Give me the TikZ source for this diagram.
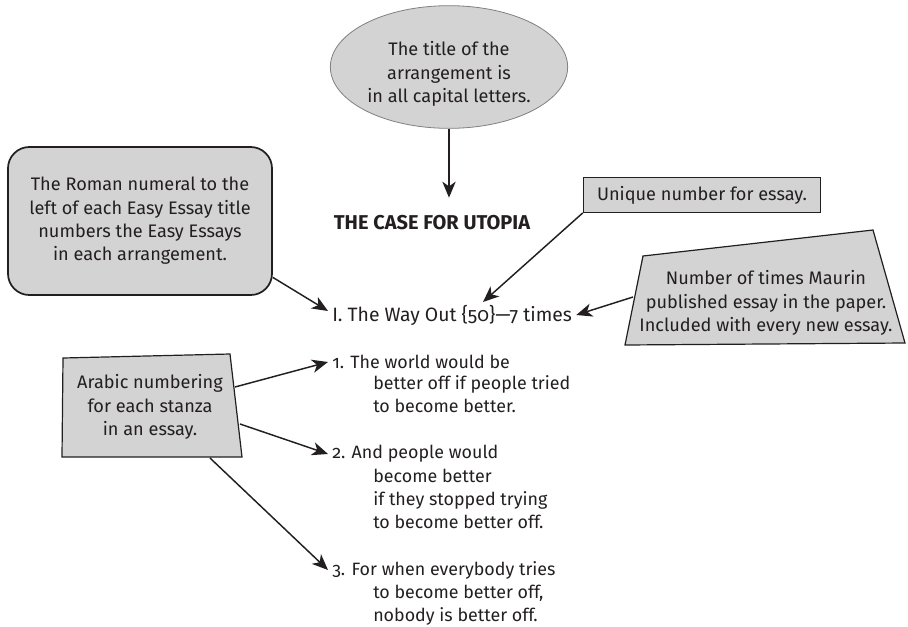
\documentclass[tikz,border=0pt]{standalone}
\usepackage{fontspec}
\setmainfont{Fira Sans}[Numbers=OldStyle]
\usetikzlibrary{shapes.geometric,arrows.meta}
\definecolor{notegray}{RGB}{211,211,211}
\definecolor{ink}{RGB}{35,31,32}
\tikzset{
  pointer/.style={-{Stealth[length=12pt,width=10pt,inset=3.5pt]},line width=1.1pt,draw=ink},
  poem/.style={anchor=west,inner sep=3pt,align=left,font=\fontsize{13.4}{17.25}\selectfont}
}
\begin{document}
\begin{tikzpicture}[x=0.75pt,y=-0.75pt,font=\fontsize{13.6}{17.5}\selectfont,text=ink]
\useasboundingbox (0,0) rectangle (908,626);
\begin{scope}[every node/.style={fill=notegray,align=center}]
	\node[ellipse,draw=gray,line width=0.6pt,minimum width=178pt,minimum height=92pt,inner sep=0pt] (title) at (449,67) {};
	\node[draw=ink,line width=1.3pt,rounded corners=16pt,minimum width=198pt,minimum height=111pt] (roman) at (140,221) {The Roman numeral to the\\left of each Easy Essay title\\numbers the Easy Essays\\in each arrangement.};
	\node[draw=ink,line width=0.8pt,minimum width=178pt,minimum height=26pt] (uniq) at (702,195) {Unique number for essay.};
\end{scope}
\node[align=center] (titletext) at (449,74) {The title of the\\arrangement is\\in all capital letters.};
\filldraw[fill=notegray,draw=ink,line width=0.9pt] (643,256) -- (873,230) -- (905,343) -- (625,345) -- cycle;
\filldraw[fill=notegray,draw=ink,line width=0.9pt] (63,358) -- (230,354) -- (242,457) -- (62,457) -- cycle;
\node[align=center] (times) at (766,303) {Number of times Maurin\\published essay in the paper.\\Included with every new essay.};
\node[align=center] (arabic) at (150,407) {Arabic numbering\\for each stanza\\in an essay.};
\coordinate (tstart) at (633,297);
\coordinate (a1) at (235,387);
\coordinate (a2) at (240,424);
\coordinate (a3) at (210,458);
\coordinate (num) at (483,302);
% the essay listing
\node[font=\fontsize{15}{18}\selectfont\bfseries] (case) at (432,223) {THE CASE FOR UTOPIA};
\node[poem,font=\fontsize{14.5}{17.25}\selectfont] (essay) at (328,315) {I. The Way Out \{50\}---7 times};
\node[poem] (s1) at (328,362) {1. The world would be};
\node[poem,anchor=north west,inner sep=0pt] (s1b) at (373,375) {better off if people tried\\to become better.};
\node[poem] (s2) at (328,454) {2. And people would};
\node[poem,anchor=north west,inner sep=0pt] (s2b) at (373,469) {become better\\if they stopped trying\\to become better off.};
\node[poem] (s3) at (328,570) {3. For when everybody tries};
\node[poem,anchor=north west,inner sep=0pt] (s3b) at (373,585) {to become better off,\\nobody is better off.};
\path (title) edge[pointer,shorten >=10pt] (title |- case.north);
\path (roman.-23) edge[pointer] ([yshift=3pt]essay.west);
\path (uniq.south west) edge[pointer] (num);
\path (tstart) edge[pointer] (essay.east);
\path (a1) edge[pointer] (s1.west);
\path (a2) edge[pointer] (s2.west);
\path (a3) edge[pointer] (s3.west);
\end{tikzpicture}
\end{document}
